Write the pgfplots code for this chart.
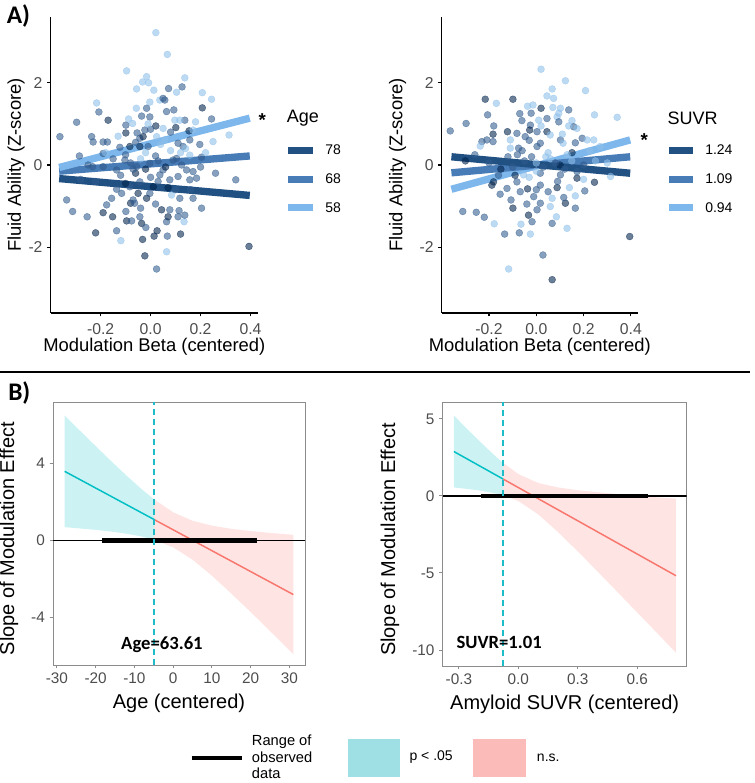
\documentclass[border=0pt]{standalone}
\usepackage{fontspec}
\setmainfont{Liberation Sans}
\newfontfamily\calib{Carlito}
\usepackage{pgfplots}
\pgfplotsset{compat=1.18}

\definecolor{tickgray}{RGB}{77,77,77}
\definecolor{boxgray}{RGB}{140,140,140}
\definecolor{ldark}{RGB}{33,80,130}
\definecolor{lmid}{RGB}{72,124,183}
\definecolor{llight}{RGB}{125,183,235}
\definecolor{ggteal}{RGB}{0,191,196}
\definecolor{ggred}{RGB}{248,118,109}
\definecolor{dashteal}{RGB}{30,188,198}
\definecolor{keyteal}{RGB}{158,224,228}
\definecolor{keyred}{RGB}{250,187,185}

\pgfplotsset{
  colormap={pts}{rgb255=(0,34,76) rgb255=(48,91,141) rgb255=(141,191,234)},
  panelA/.style={
    scale only axis, height=222pt,
    xmin=-0.4, xmax=0.43, ymin=-3.6, ymax=3.6,
    axis x line*=bottom, axis y line*=left,
    axis line style={black, line width=0.9pt, -},
    tick align=outside, major tick length=2.6pt,
    tick style={black, line width=0.8pt},
    xtick={-0.2,0,0.2,0.4}, xticklabels={-0.2,0.0,0.2,0.4},
    ytick={-2,0,2}, yticklabels={-2,0,2},
    /pgf/number format/assume math mode=true,
    ticklabel style={font=\fontsize{11.8}{12}\selectfont, text=tickgray},
    xticklabel style={yshift=-1.5pt},
    xlabel style={at={(axis description cs:0.5,-0.115)}, anchor=center,
      font=\fontsize{13.8}{14}\selectfont},
    ylabel style={anchor=center, rotate=0, font=\fontsize{13.8}{14}\selectfont},
    colormap name=pts,
  },
  dots/.style={scatter, only marks, mark=*, mark size=2.6pt,
    point meta=explicit, point meta min=0, point meta max=1,
    scatter/use mapped color={draw=mapped color, fill=mapped color},
    mark options={opacity=0.58, line width=0.3pt}},
  panelB/.style={
    scale only axis,
    axis line style={boxgray, line width=0.7pt},
    tick align=outside, tick pos=left, major tick length=2.6pt,
    tick style={boxgray, line width=0.7pt},
    /pgf/number format/assume math mode=true,
    ticklabel style={font=\fontsize{11.5}{12}\selectfont, text=tickgray},
    xlabel style={at={(axis description cs:0.5,-0.144)}, anchor=center,
      font=\fontsize{15}{15}\selectfont},
    ylabel style={anchor=center, font=\fontsize{15}{15}\selectfont},
  },
}

\begin{document}
\begin{tikzpicture}
\useasboundingbox (0,0) rectangle (566.25pt,587.25pt);

% ---------- A, left: age ----------
\begin{axis}[panelA, at={(38pt,352.5pt)}, anchor=south west, width=155.5pt,
  xlabel={Modulation Beta (centered)}, ylabel={Fluid Ability (Z-score)},
  ylabel style={at={(axis description cs:-0.167,0.5)}}]
\addplot[dots] table[meta=c] {
x y c
0.021 3.22 1
0.067 2.69 1
-0.096 2.29 1
-0.016 2.15 1
-0.032 2.02 1
-0.008 2.00 1
-0.056 1.85 1
0.013 1.82 1
0.137 2.12 1
0.072 1.86 0.5
0.104 1.77 1
0.126 1.90 0.5
0.207 1.76 1
0.244 1.60 1
-0.216 1.51 1
-0.003 1.53 1
0.037 1.58 1
0.050 1.62 0.5
0.057 1.58 0.5
0.207 1.39 0
0.244 1.12 0.5
-0.207 1.29 0.5
-0.170 1.09 0
-0.296 1.04 0.5
-0.363 0.69 0.5
-0.236 0.69 0.5
-0.230 0.56 0.5
-0.190 0.56 0.5
-0.173 0.56 0.5
-0.123 0.43 0.5
-0.083 0.45 0
-0.043 0.45 0
-0.099 0.97 0.5
-0.088 1.12 1
-0.072 1.01 1
-0.099 0.78 0
-0.057 1.38 1
-0.036 1.19 0.5
-0.016 1.38 0.5
-0.003 1.17 0.5
0.021 0.95 0
0.000 0.87 0.5
-0.023 0.85 0.5
-0.054 0.78 0.5
0.064 1.30 0.5
0.093 1.34 0.5
0.097 1.09 1
0.137 1.09 0.5
0.101 0.91 0
0.117 1.09 1
0.050 0.89 1
0.154 0.83 0
0.170 0.85 1
0.157 0.61 0.5
0.197 0.50 0.5
0.250 0.57 1
0.314 0.73 1
0.057 0.61 1
0.024 0.69 1
-0.043 0.65 0.5
-0.030 0.69 0
-0.010 0.45 0.5
0.110 0.53 0.5
0.130 0.45 0.5
-0.285 0.22 0.5
-0.190 0.28 0.5
-0.232 -0.04 0.5
0.204 0.19 0.5
0.341 -0.36 0.5
-0.336 -0.85 0.5
-0.312 -1.13 0.5
-0.254 -1.26 0.5
-0.220 -1.65 0
-0.190 -1.16 0
-0.176 -0.97 0.5
-0.156 -0.81 0.5
-0.152 -1.26 0
-0.136 -1.60 0.5
-0.119 -1.84 1
-0.136 -0.59 0.5
-0.099 -1.13 0.5
-0.096 -1.36 0
-0.076 -1.36 0.5
-0.080 -0.93 0
-0.064 -0.93 0.5
-0.043 -1.26 0.5
-0.036 -1.42 0
-0.019 -1.52 0.5
-0.032 -1.81 0
-0.023 -2.21 0
0.024 -2.53 0.5
0.014 -1.73 0
0.026 -1.60 0
0.067 -1.73 0.5
0.064 -2.11 1
0.120 -1.68 0
0.044 -1.09 0
0.064 -1.38 0.5
0.077 -1.09 0.5
0.070 -1.26 0
0.110 -1.26 0.5
0.114 -1.11 0.5
0.134 -1.38 1
0.137 -1.22 0.5
0.204 -1.05 0.5
0.170 -0.81 0.5
0.394 -1.98 0
0.117 -0.81 0.5
0.084 -0.73 1
-0.070 -0.85 0.5
-0.050 -0.69 0
-0.003 -0.69 0.5
-0.116 -0.69 0.5
-0.083 -0.53 0.5
-0.016 -0.81 0
0.011 -0.53 0
-0.043 -0.41 0.5
0.037 -0.24 0.5
0.077 -0.36 0.5
0.110 -0.28 0.5
0.157 -0.36 0.5
0.184 -0.32 0.5
0.144 -0.12 0.5
0.124 0.00 0.5
0.170 -0.16 0.5
-0.103 0.12 0.5
-0.056 -0.04 0.5
-0.003 0.04 0.5
0.050 -0.12 0.5
0.104 0.16 0.5
0.157 0.24 1
-0.136 -0.12 0.5
-0.190 -0.04 0.5
-0.020 0.30 1
0.030 0.10 0.5
-0.100 0.25 0.5
0.080 0.35 1
-0.060 -0.20 0
0.000 -0.30 0.5
0.120 0.30 1
-0.150 0.15 0.5
0.200 -0.05 0.5
-0.250 0.00 0.5
0.060 -0.05 0
-0.040 0.15 1
-0.080 0.05 0.5
-0.120 -0.25 0.5
-0.020 -0.10 0
0.020 0.22 0.5
0.090 0.12 0.5
0.140 0.40 1
-0.180 0.30 1
-0.060 0.55 0.5
0.040 0.50 1
0.100 -0.60 0.5
-0.100 -0.45 0
0.020 -0.95 0.5
-0.040 -1.05 0.5
0.160 -0.60 0.5
-0.220 -0.40 0.5
0.220 0.30 1
-0.130 0.70 1
0.080 0.80 0.5
-0.010 1.00 1
0.180 1.05 1
-0.280 -0.35 0.5
0.260 -0.20 0.5
0.070 -0.55 0
-0.070 -0.10 0.5
0.030 -0.40 0.5
};
\addplot[ldark, line width=5.5pt] coordinates {(-0.366,-0.33) (0.397,-0.74)};
\addplot[lmid, line width=5.5pt] coordinates {(-0.366,-0.15) (0.397,0.22)};
\addplot[llight, line width=5.5pt] coordinates {(-0.366,-0.06) (0.397,1.14)};
\end{axis}

% ---------- A, right: SUVR ----------
\begin{axis}[panelA, at={(331.3pt,352.5pt)}, anchor=south west, width=147.2pt,
  xlabel={Modulation Beta (centered)}, ylabel={Fluid Ability (Z-score)},
  ylabel style={at={(axis description cs:-0.225,0.5)}}]
\addplot[dots] table[meta=c] {
x y c
0.020 2.33 1
0.123 2.05 1
0.208 1.81 1
0.067 1.85 1
0.045 1.68 1
0.073 1.62 1
-0.216 1.60 0
-0.099 1.60 0
-0.169 1.50 1
-0.037 1.43 1
-0.014 1.46 1
0.020 1.38 0
-0.022 1.26 0.5
0.102 1.38 1
0.137 1.34 0.5
0.095 1.26 1
0.088 1.17 1
0.246 1.22 1
0.342 1.16 1
-0.206 1.22 0.5
-0.297 1.01 0.5
-0.364 0.83 0.5
-0.061 1.08 0.5
-0.025 0.97 0.5
0.010 1.09 1
0.045 1.13 0.5
0.151 1.08 1
0.158 0.93 0.5
0.172 0.89 1
0.137 0.95 1
0.095 1.05 0.5
-0.122 0.81 0
-0.082 0.77 0.5
-0.183 0.75 0
-0.209 0.61 0.5
-0.230 0.57 0.5
-0.237 0.46 1
-0.183 0.57 0.5
-0.110 0.61 1
-0.047 0.69 0.5
-0.028 0.85 0
0.003 0.81 0.5
0.045 0.81 0
0.059 0.73 1
0.102 0.61 0.5
0.113 0.53 1
0.165 0.54 0.5
0.194 0.65 0.5
0.215 0.61 1
0.243 0.61 1
-0.110 0.41 1
-0.075 0.41 0.5
0.003 0.45 0.5
0.017 0.53 0.5
0.151 0.30 0
0.226 0.35 1
0.314 -0.28 1
0.246 -0.42 0
0.205 -0.63 0.5
0.395 -1.74 0
-0.188 -0.49 0
-0.181 -0.41 0
-0.153 -0.71 0.5
-0.124 -0.57 0.5
-0.311 -1.13 0.5
-0.254 -1.15 0.5
-0.220 -1.27 0.5
-0.178 -1.43 1
-0.134 -1.68 0.5
-0.072 -1.65 0.5
-0.025 -1.68 1
-0.065 -1.44 1
-0.099 -1.05 0
-0.107 -0.85 0.5
-0.033 -1.22 0
-0.018 -1.38 0.5
0.003 -1.09 0.5
0.017 -0.93 0.5
0.085 -1.26 1
0.067 -1.42 0.5
0.130 -1.54 1
0.123 -0.93 0
0.165 -1.05 0.5
0.165 -0.75 1
0.116 -0.79 0.5
0.088 -0.55 0
0.067 -0.81 1
0.059 -1.01 1
0.028 -2.19 0.5
-0.117 -2.53 1
0.067 -2.79 0
-0.068 -0.65 0.5
-0.037 -0.58 0
0.017 -0.49 0.5
-0.011 -0.77 0.5
-0.082 -0.41 0.5
0.017 -0.20 0.5
0.102 -0.24 0.5
0.172 -0.32 0
-0.054 -0.24 1
0.172 -0.16 0.5
-0.050 0.10 0.5
0.000 0.05 1
0.030 -0.05 0.5
-0.020 0.20 0.5
0.060 0.15 1
0.100 0.00 0
-0.100 -0.05 0.5
0.150 0.10 1
-0.200 0.05 0.5
-0.300 0.10 0
0.200 0.00 0.5
0.050 0.30 1
-0.080 0.25 0.5
0.120 -0.10 0.5
0.250 0.10 1
-0.150 -0.10 0
0.000 -0.15 1
0.080 0.05 0.5
-0.030 -0.30 1
0.300 0.05 1
-0.060 0.35 0.5
0.040 0.20 1
-0.120 0.20 0.5
0.130 0.25 1
0.090 -0.40 0.5
-0.030 0.60 0.5
0.020 0.95 1
-0.160 -0.25 0.5
0.200 -0.35 1
-0.090 -0.25 0
0.050 -0.65 0.5
-0.040 -0.95 0.5
0.110 0.75 1
-0.180 0.95 0.5
0.270 0.45 1
-0.260 0.25 0.5
0.070 1.40 1
-0.070 1.25 0.5
0.140 -0.55 1
0.000 -0.60 0.5
};
\addplot[llight, line width=5.5pt] coordinates {(-0.359,-0.59) (0.397,0.61)};
\addplot[lmid, line width=5.5pt] coordinates {(-0.359,-0.19) (0.397,0.20)};
\addplot[ldark, line width=5.5pt] coordinates {(-0.359,0.20) (0.397,-0.20)};
\end{axis}

% ---------- B, left: age ----------
\begin{axis}[panelB, at={(39.75pt,88.5pt)}, anchor=south west,
  width=189pt, height=197.25pt,
  xmin=-31, xmax=34, ymin=-6.46, ymax=7.2,
  xtick={-30,-20,-10,0,10,20,30}, ytick={-4,0,4},
  xlabel={Age (centered)}, ylabel={Slope of Modulation Effect},
  ylabel style={at={(axis description cs:-0.175,0.48)}}]
\addplot[draw=none, fill=ggteal, fill opacity=0.2] coordinates {
(-28,6.50) (-24,5.70) (-20,4.91) (-16,4.13) (-12,3.37) (-8,2.65) (-4.9,2.14)
(-4.9,0.05) (-8,0.21) (-12,0.36) (-16,0.47) (-20,0.56) (-24,0.63) (-28,0.70)} -- cycle;
\addplot[draw=none, fill=ggred, fill opacity=0.2] coordinates {
(-4.9,2.14) (0,1.47) (5,1.03) (10,0.78) (15,0.61) (20,0.50) (25,0.40) (31,0.30)
(31,-5.90) (25,-4.70) (20,-3.71) (15,-2.75) (10,-1.82) (5,-0.99) (0,-0.35) (-4.9,0.05)} -- cycle;
\addplot[ggteal, line width=1.1pt] coordinates {(-28,3.6) (-4.9,1.094)};
\addplot[ggred, line width=1.1pt] coordinates {(-4.9,1.094) (31,-2.802)};
\addplot[black, line width=1.2pt] coordinates {(-31,0) (34,0)};
\addplot[black, line width=3.5pt] coordinates {(-18.4,0) (21.5,0)};
\addplot[dashteal, line width=1.3pt, dash pattern=on 4.5pt off 3pt] coordinates {(-4.9,-6.46) (-4.9,7.2)};
\node[font=\calib\bfseries\fontsize{14}{14}\selectfont] at (axis cs:-2.9,-5.42) {Age=63.61};
\end{axis}

% ---------- B, right: SUVR ----------
\begin{axis}[panelB, at={(332pt,87.75pt)}, anchor=south west,
  width=183pt, height=197.8pt,
  xmin=-0.382, xmax=0.85, ymin=-11.04, ymax=6.08,
  xtick={-0.3,0,0.3,0.6}, xticklabels={-0.3,0.0,0.3,0.6}, ytick={-10,-5,0,5},
  xlabel={Amyloid SUVR (centered)}, ylabel={Slope of Modulation Effect},
  ylabel style={at={(axis description cs:-0.216,0.48)}}]
\addplot[draw=none, fill=ggteal, fill opacity=0.2] coordinates {
(-0.325,5.21) (-0.25,4.24) (-0.2,3.61) (-0.15,2.99) (-0.1,2.40) (-0.076,2.14)
(-0.076,0.04) (-0.1,0.12) (-0.15,0.25) (-0.2,0.36) (-0.25,0.44) (-0.325,0.55)} -- cycle;
\addplot[draw=none, fill=ggred, fill opacity=0.2] coordinates {
(-0.076,2.14) (0,1.42) (0.1,0.84) (0.2,0.55) (0.3,0.37) (0.4,0.24) (0.5,0.12)
(0.6,0.01) (0.7,-0.09) (0.796,-0.18) (0.796,-10.18) (0.7,-8.89) (0.6,-7.56)
(0.5,-6.23) (0.4,-4.90) (0.3,-3.60) (0.2,-2.34) (0.1,-1.19) (0,-0.33) (-0.076,0.04)} -- cycle;
\addplot[ggteal, line width=1.1pt] coordinates {(-0.325,2.88) (-0.076,1.09)};
\addplot[ggred, line width=1.1pt] coordinates {(-0.076,1.09) (0.796,-5.18)};
\addplot[black, line width=1.2pt] coordinates {(-0.382,0) (0.85,0)};
\addplot[black, line width=3.5pt] coordinates {(-0.19,0) (0.657,0)};
\addplot[dashteal, line width=1.3pt, dash pattern=on 4.5pt off 3pt] coordinates {(-0.076,-11.04) (-0.076,6.08)};
\node[font=\calib\bfseries\fontsize{14}{14}\selectfont] at (axis cs:-0.097,-9.53) {SUVR=1.01};
\end{axis}

% ---------- annotations, in pixel units of the reference ----------
\begin{scope}[x=0.75pt, y=-0.75pt, yshift=587.25pt]
\node[anchor=west, inner sep=0pt, font=\calib\bfseries\fontsize{19}{19}\selectfont] at (6.5,16) {A)};
\node[anchor=west, inner sep=0pt, font=\calib\bfseries\fontsize{19}{19}\selectfont] at (8,393) {B)};
\draw[black, line width=1.1pt] (0,372) -- (750,372);
% legend, age
\node[anchor=base west, inner sep=0pt, font=\fontsize{13.5}{14}\selectfont] at (286.7,122.7) {Age};
\draw[ldark, line width=5.2pt] (288.3,150.8) -- (313.3,150.8);
\draw[lmid, line width=5.2pt] (288.3,179.3) -- (313.3,179.3);
\draw[llight, line width=5.2pt] (288.3,207.8) -- (313.3,207.8);
\node[anchor=base west, inner sep=0pt, font=\fontsize{10.5}{11}\selectfont] at (325,155) {78};
\node[anchor=base west, inner sep=0pt, font=\fontsize{10.5}{11}\selectfont] at (325,183.8) {68};
\node[anchor=base west, inner sep=0pt, font=\fontsize{10.5}{11}\selectfont] at (325,212.2) {58};
\node[inner sep=0pt, font=\bfseries\fontsize{14}{14}\selectfont] at (262.3,120) {*};
% legend, SUVR
\node[anchor=base west, inner sep=0pt, font=\fontsize{13.5}{14}\selectfont] at (667.3,125) {SUVR};
\draw[ldark, line width=5.2pt] (669.3,150.8) -- (692.7,150.8);
\draw[lmid, line width=5.2pt] (669.3,179.3) -- (692.7,179.3);
\draw[llight, line width=5.2pt] (669.3,207.8) -- (692.7,207.8);
\node[anchor=base west, inner sep=0pt, font=\fontsize{10.5}{11}\selectfont] at (705,155) {1.24};
\node[anchor=base west, inner sep=0pt, font=\fontsize{10.5}{11}\selectfont] at (705,183.8) {1.09};
\node[anchor=base west, inner sep=0pt, font=\fontsize{10.5}{11}\selectfont] at (705,212.2) {0.94};
\node[inner sep=0pt, font=\bfseries\fontsize{14}{14}\selectfont] at (644.3,140) {*};
% legend, panel B
\draw[black, line width=3pt] (191.7,757.7) -- (241.7,757.7);
\node[anchor=west, inner sep=0pt, align=left, font=\fontsize{11}{12.4}\selectfont] at (251.7,757) {Range of\\observed\\data};
\fill[keyteal] (348.3,739.3) rectangle (400,777.3);
\node[anchor=west, inner sep=0pt, font=\fontsize{10.5}{11}\selectfont] at (409.3,757.5) {p < .05};
\fill[keyred] (472.7,739.3) rectangle (526,777.3);
\node[anchor=west, inner sep=0pt, font=\fontsize{10.5}{11}\selectfont] at (536.7,757.5) {n.s.};
\end{scope}
\end{tikzpicture}
\end{document}
